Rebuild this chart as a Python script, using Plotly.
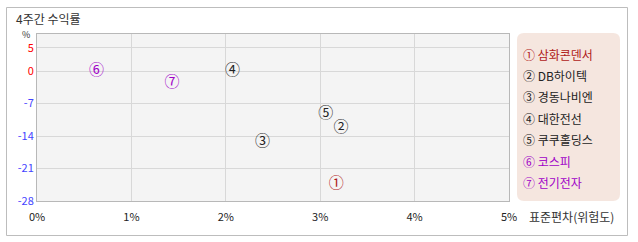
import plotly.graph_objects as go

W, H = 638, 242

names = ["삼화콘덴서", "DB하이텍", "경동나비엔", "대한전선", "쿠쿠홀딩스", "코스피", "전기전자"]
marks = ["①", "②", "③", "④", "⑤", "⑥", "⑦"]
std_dev = [3.17, 3.22, 2.39, 2.07, 3.06, 0.63, 1.43]
returns = [-24.3, -12.4, -15.4, 0.0, -9.3, 0.0, -2.6]
colors = ["#b01818", "#222222", "#222222", "#222222", "#222222", "#a000c8", "#a000c8"]

x_ticks = [0, 1, 2, 3, 4, 5]
x_labels = ["0%", "1%", "2%", "3%", "4%", "5%"]
y_ticks = [5, 0, -7, -14, -21, -28]
y_colors = ["#ff0000", "#ff0000", "#4444ff", "#4444ff", "#4444ff", "#4444ff"]

FONT = "Noto Sans CJK KR"

def px(x):
    return x / W

def py(y):
    return 1 - y / H

fig = go.Figure()
fig.add_trace(go.Scatter(
    x=std_dev, y=returns, mode="text", text=marks,
    textfont=dict(family=FONT, size=15, color=colors),
    textposition="middle center", hoverinfo="skip", showlegend=False,
))

y_text = [f'<span style="color:{c}">{v}</span>' for v, c in zip(y_ticks, y_colors)]

fig.update_layout(
    width=W, height=H, margin=dict(l=0, r=0, t=0, b=0, autoexpand=False),
    paper_bgcolor="white", plot_bgcolor="#f4f4f4",
    font=dict(family=FONT, size=11, color="#333333"),
    xaxis=dict(domain=[px(37), px(509)], range=[0, 5], tickvals=x_ticks, ticktext=x_labels,
               showgrid=True, gridcolor="#d8d8d8", zeroline=False, showline=True,
               linecolor="#b8b8b8", mirror=True, ticks="", fixedrange=True, automargin=False,
               ticklabelstandoff=6, tickfont=dict(size=11, color="#222222")),
    yaxis=dict(domain=[py(201), py(34)], range=[-28, 8], tickvals=y_ticks, ticktext=y_text,
               showgrid=True, gridcolor="#d8d8d8", zeroline=False, showline=True,
               linecolor="#b8b8b8", mirror=True, ticks="", fixedrange=True, automargin=False,
               tickfont=dict(size=11)),
    showlegend=False,
)

# outer border
fig.add_shape(type="rect", xref="paper", yref="paper",
              x0=px(6.5), x1=px(627.5), y0=py(235.5), y1=py(7.5),
              line=dict(color="#bdbdbd", width=1), fillcolor="rgba(0,0,0,0)", layer="below")

# legend box rounded
lx0, lx1, ly0, ly1, r = 517, 620, 33, 201, 7
path = (f"M {px(lx0+r)},{py(ly0)} L {px(lx1-r)},{py(ly0)} Q {px(lx1)},{py(ly0)} {px(lx1)},{py(ly0+r)} "
        f"L {px(lx1)},{py(ly1-r)} Q {px(lx1)},{py(ly1)} {px(lx1-r)},{py(ly1)} "
        f"L {px(lx0+r)},{py(ly1)} Q {px(lx0)},{py(ly1)} {px(lx0)},{py(ly1-r)} "
        f"L {px(lx0)},{py(ly0+r)} Q {px(lx0)},{py(ly0)} {px(lx0+r)},{py(ly0)} Z")
fig.add_shape(type="path", xref="paper", yref="paper", path=path,
              fillcolor="#f5e6df", line=dict(width=0), layer="below")

for i, (m, n, c) in enumerate(zip(marks, names, colors)):
    fig.add_annotation(xref="paper", yref="paper", x=px(521), y=py(54 + i * 21.4),
                       xanchor="left", yanchor="middle", showarrow=False,
                       text=f"{m} {n}", font=dict(family=FONT, size=12, color=c))

fig.add_annotation(xref="paper", yref="paper", x=px(15), y=py(19), xanchor="left", yanchor="middle",
                   showarrow=False, text="4주간 수익률", font=dict(family=FONT, size=12, color="#333333"),
                   borderpad=0)
fig.add_annotation(xref="paper", yref="paper", x=px(26), y=py(35), xanchor="center", yanchor="middle",
                   showarrow=False, text="%", font=dict(family=FONT, size=9, color="#333333"),
                   borderpad=0)
fig.add_annotation(xref="paper", yref="paper", x=px(527), y=py(216), xanchor="left", yanchor="middle",
                   showarrow=False, text="표준편차(위험도)", font=dict(family=FONT, size=12, color="#333333"))

fig.write_html("out.html")
